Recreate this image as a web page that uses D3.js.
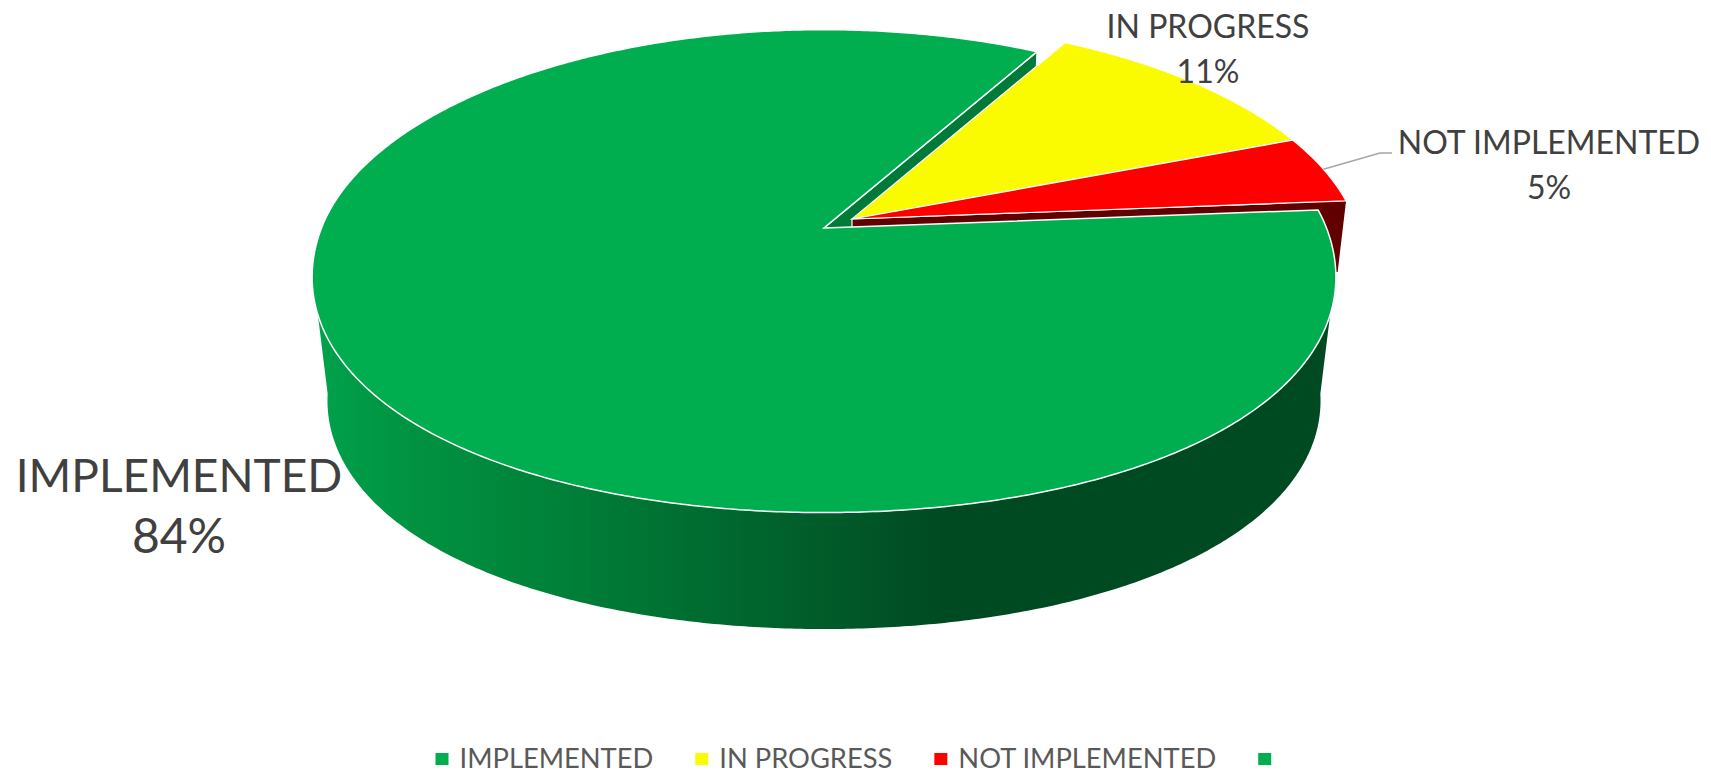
<!DOCTYPE html>
<html>
<head>
<meta charset="utf-8">
<script src="https://cdn.jsdelivr.net/npm/d3@7"></script>
<style>
  html, body { margin: 0; padding: 0; background: #fff; overflow: hidden; }
  text { font-family: Lato, "Open Sans", sans-serif; }
</style>
</head>
<body>
<svg></svg>
<script>
var categories = ["IMPLEMENTED", "IN PROGRESS", "NOT IMPLEMENTED", ""];
var percents = [84.4, 11, 4.6, 0];
var sliceColors = ["#00AE50", "#FAFA00", "#FF0000", "#00AE50"];

var width = 1711, height = 774;

var svg = d3.select("svg")
            .attr("width", width)
            .attr("height", height);

// perspective settings for the tilted disc
var apex = {x: 824, y: 228};
var persp = {d: 5.6, ky: 1309, kx: 2814};
var wall = {scale: 0.97, drop: 125};
var explode = {x: 28, y: -9};
var rad = Math.PI / 180;

var pie = d3.pie()
            .sort(null)
            .value(function(d){ return d; })
            .startAngle(85.5 * rad)
            .endAngle(445.5 * rad);
var arcs = pie(percents);

var project = function(a, r, low, off){
  // the near half of the disc bulges a little on the diagonals
  if (Math.cos(a) < 0) {
    var s2 = Math.sin(2 * a);
    r = r * (1 + 0.016 * s2 * s2);
  }
  var x = r * Math.sin(a), z = r * Math.cos(a);
  var w = persp.d + z;
  var sx = apex.x + persp.kx * x / w;
  var sy = apex.y - persp.ky * z / w;
  if (low) {
    sx = apex.x + (sx - apex.x) * wall.scale;
    sy = apex.y + (sy - apex.y) * wall.scale + wall.drop;
  }
  if (off) { sx += explode.x; sy += explode.y; }
  return [sx, sy];
};

var line = d3.line();

var arcPoints = function(a0, a1, low, off){
  var n = Math.max(2, Math.ceil(Math.abs(a1 - a0) / (rad / 2)));
  return d3.range(n + 1).map(function(i){
    return project(a0 + (a1 - a0) * i / n, 1, low, off);
  });
};

var topFace = function(s, off){
  return line([project(0, 0, false, off)].concat(arcPoints(s.startAngle, s.endAngle, false, off))) + "Z";
};
var rimFace = function(a0, a1, off){
  return line(arcPoints(a0, a1, false, off).concat(arcPoints(a1, a0, true, off))) + "Z";
};
var edgeFace = function(a, off){
  return line([
    project(0, 0, false, off), project(a, 1, false, off),
    project(a, 1, true, off), project(0, 0, true, off)
  ]) + "Z";
};

var defs = svg.append("defs");
var rimGrad = defs.append("linearGradient")
                  .attr("id", "rimGreen")
                  .attr("gradientUnits", "userSpaceOnUse")
                  .attr("x1", 312).attr("x2", 1335)
                  .attr("y1", 0).attr("y2", 0);
[[0, "#00A24B"], [0.1, "#019241"], [0.25, "#007F38"], [0.45, "#00622C"],
 [0.62, "#004A22"], [1, "#004A22"]].forEach(function(s){
  rimGrad.append("stop").attr("offset", s[0]).attr("stop-color", s[1]);
});

// the red side wall stops where it meets the green rim
defs.append("clipPath")
    .attr("id", "redClip")
    .append("rect")
    .attr("x", 0).attr("y", 0)
    .attr("width", width).attr("height", 272);

var green = arcs[0], yellow = arcs[1], red = arcs[2];

// back to front
svg.append("path").attr("d", edgeFace(green.endAngle, false))
   .attr("fill", "#007A39").attr("stroke", "#fff").attr("stroke-width", 1.2);

svg.append("path").attr("d", topFace(yellow, true))
   .attr("fill", sliceColors[1]).attr("stroke", "#fff").attr("stroke-width", 1.2);

var redWalls = svg.append("g").attr("clip-path", "url(#redClip)");
redWalls.append("path").attr("d", edgeFace(red.endAngle, true))
   .attr("fill", "#600000").attr("stroke", "#fff").attr("stroke-width", 1.2);
redWalls.append("path").attr("d", rimFace(red.startAngle, red.endAngle, true))
   .attr("fill", "#600000");

svg.append("path").attr("d", topFace(red, true))
   .attr("fill", sliceColors[2]).attr("stroke", "#fff").attr("stroke-width", 1.2);

svg.append("path").attr("d", rimFace(100 * rad, 260 * rad, false))
   .attr("fill", "url(#rimGreen)");

svg.append("path").attr("d", topFace(green, false))
   .attr("fill", sliceColors[0]).attr("stroke", "#fff").attr("stroke-width", 1.5);

// leader line for the small slice
svg.append("path")
   .attr("d", line([project((red.startAngle + red.endAngle) / 2, 1, false, true), [1380, 153], [1392, 153]]))
   .attr("fill", "none")
   .attr("stroke", "#A6A6A6")
   .attr("stroke-width", 1.5);

// data labels
var labelSpots = [
  {i: 0, x: 179, y: 492, y2: 553, size: 46, size2: 48},
  {i: 1, x: 1208, y: 38, y2: 83, size: 32, size2: 32},
  {i: 2, x: 1549, y: 154, y2: 199, size: 32, size2: 32}
];
labelSpots.forEach(function(l){
  var t = svg.append("text")
             .attr("text-anchor", "middle")
             .attr("fill", "#404040");
  t.append("tspan").attr("x", l.x).attr("y", l.y).attr("font-size", l.size).text(categories[l.i]);
  t.append("tspan").attr("x", l.x).attr("y", l.y2).attr("font-size", l.size2).text(Math.round(percents[l.i]) + "%");
});

// legend
var legendX = 435.5;
categories.forEach(function(c, i){
  svg.append("rect")
     .attr("x", legendX).attr("y", 753)
     .attr("width", 13).attr("height", 12)
     .attr("fill", sliceColors[i]);
  var t = svg.append("text")
             .attr("x", legendX + 24).attr("y", 768)
             .attr("fill", "#595959")
             .attr("font-size", 27.3)
             .text(c);
  legendX += 24 + t.node().getComputedTextLength() + 42;
});
</script>
</body>
</html>
